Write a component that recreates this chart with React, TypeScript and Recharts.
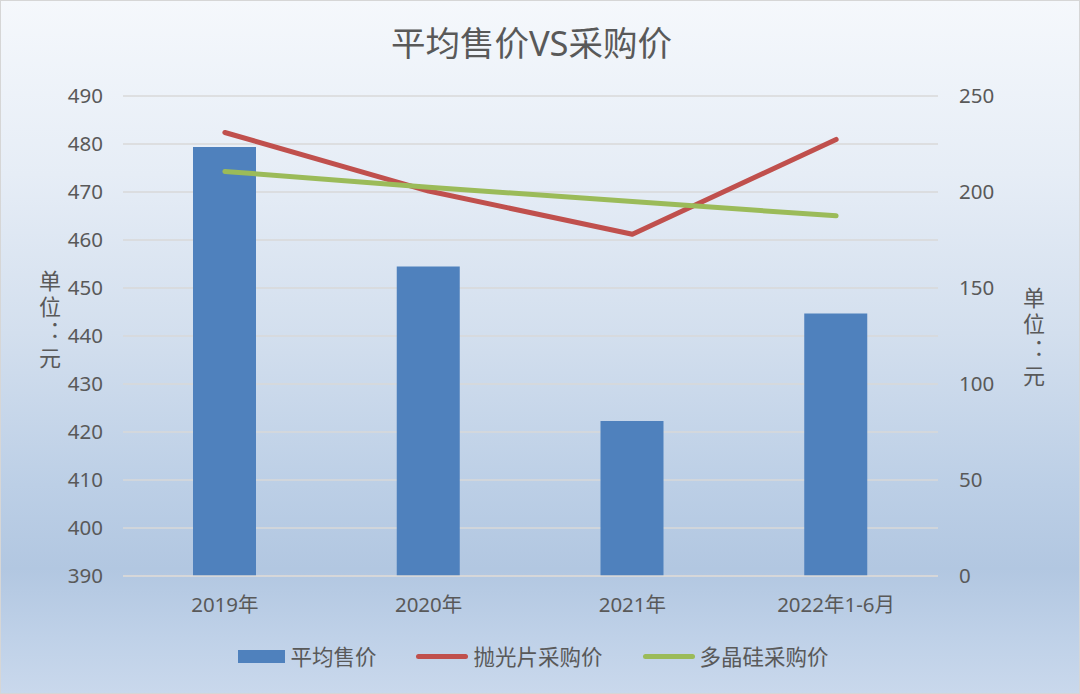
import React from 'react';
import { ComposedChart, Bar, Line, XAxis, YAxis, CartesianGrid, Legend } from 'recharts';

const categories = ['2019年', '2020年', '2021年', '2022年1-6月'];
const avgSalePrice = [479.4, 454.5, 422.3, 444.7];
const waferPurchasePrice = [231.0, 200.5, 178.0, 227.4];
const polyPurchasePrice = [210.7, 202.5, 195.0, 187.6];
const leftTicks = [390, 400, 410, 420, 430, 440, 450, 460, 470, 480, 490];
const rightTicks = [0, 50, 100, 150, 200, 250];
const seriesNames = ['平均售价', '抛光片采购价', '多晶硅采购价'];
const titleText = '平均售价VS采购价';
const unitText = '单位：元';

const data = categories.map((c, i) => ({
  name: c,
  avg: avgSalePrice[i],
  wafer: waferPurchasePrice[i],
  poly: polyPurchasePrice[i],
}));

const FONT = "'Noto Sans', 'Noto Sans CJK SC', sans-serif";
const TEXT = '#595959';

const LegendContent = () => {
  const items = [
    { name: seriesNames[0], type: 'rect', color: '#4f81bd' },
    { name: seriesNames[1], type: 'line', color: '#c0504d' },
    { name: seriesNames[2], type: 'line', color: '#9bbb59' },
  ];
  return (
    <div
      style={{
        height: 30,
        display: 'flex',
        alignItems: 'center',
        justifyContent: 'center',
        paddingRight: 12,
        fontFamily: FONT,
        fontSize: 21.5,
        color: TEXT,
      }}
    >
      {items.map((it, i) => (
        <div key={i} style={{ display: 'flex', alignItems: 'center', marginLeft: i === 0 ? 0 : 40 }}>
          {it.type === 'rect' ? (
            <div style={{ width: 47, height: 13, background: it.color }} />
          ) : (
            <div style={{ width: 52, height: 5, borderRadius: 3, background: it.color }} />
          )}
          <span style={{ marginLeft: 5, lineHeight: '30px' }}>{it.name}</span>
        </div>
      ))}
    </div>
  );
};

export default function App() {
  return (
    <div
      style={{
        position: 'absolute',
        left: 0,
        top: 0,
        width: 1080,
        height: 694,
        boxSizing: 'border-box',
        border: '1.5px solid #d6d6d6',
        background:
          'linear-gradient(180deg, #f5f8fc 0%, #e6edf6 25%, #d3dfee 48%, #bccfe6 70%, #b2c7e1 82%, #bfd1e8 92%, #c9d8ec 100%)',
        fontFamily: FONT,
        overflow: 'hidden',
      }}
    >
      <div
        style={{
          position: 'absolute',
          left: 0,
          width: 1061,
          top: 22,
          textAlign: 'center',
          fontSize: 34.5,
          lineHeight: '40px',
          color: TEXT,
        }}
      >
        {titleText}
      </div>
      <div
        style={{
          position: 'absolute',
          left: 36,
          top: 269,
          writingMode: 'vertical-rl',
          textOrientation: 'upright',
          fontSize: 22,
          letterSpacing: 3.5,
          color: TEXT,
          lineHeight: '23px',
        }}
      >
        {unitText}
      </div>
      <div
        style={{
          position: 'absolute',
          left: 1020,
          top: 286,
          writingMode: 'vertical-rl',
          textOrientation: 'upright',
          fontSize: 22,
          letterSpacing: 4,
          color: TEXT,
          lineHeight: '23px',
        }}
      >
        {unitText}
      </div>
      <div style={{ position: 'absolute', left: -1.5, top: -1.5 }}>
        <ComposedChart
          width={1080}
          height={694}
          data={data}
          margin={{ top: 96, right: 0, left: 0, bottom: 22 }}
          barCategoryGap="34%"
        >
          <CartesianGrid yAxisId="left" vertical={false} stroke="#d9d9d9" strokeWidth={1.5} />
          <XAxis
            dataKey="name"
            height={66}
            tickSize={0}
            tickMargin={21}
            axisLine={{ stroke: '#d9d9d9', strokeWidth: 1.5 }}
            tick={{ fill: TEXT, fontSize: 20.5, fontFamily: FONT }}
          />
          <YAxis
            yAxisId="left"
            orientation="left"
            width={123}
            domain={[390, 490]}
            ticks={leftTicks}
            interval={0}
            allowDataOverflow
            axisLine={false}
            tickLine={false}
            tickSize={0}
            tickMargin={20}
            tick={{ fill: TEXT, fontSize: 20.5, fontFamily: FONT }}
          />
          <YAxis
            yAxisId="right"
            orientation="right"
            width={142}
            domain={[0, 250]}
            ticks={rightTicks}
            interval={0}
            axisLine={false}
            tickLine={false}
            tickSize={0}
            tickMargin={21}
            tick={{ fill: TEXT, fontSize: 20.5, fontFamily: FONT, textAnchor: 'start' }}
          />
          <Legend verticalAlign="bottom" content={<LegendContent />} />
          <Bar
            yAxisId="left"
            dataKey="avg"
            name={seriesNames[0]}
            fill="#4f81bd"
            barSize={63}
            isAnimationActive={false}
          />
          <Line
            yAxisId="right"
            type="linear"
            dataKey="wafer"
            name={seriesNames[1]}
            stroke="#c0504d"
            strokeWidth={5}
            strokeLinecap="round"
            strokeLinejoin="round"
            dot={false}
            activeDot={false}
            isAnimationActive={false}
          />
          <Line
            yAxisId="right"
            type="linear"
            dataKey="poly"
            name={seriesNames[2]}
            stroke="#9bbb59"
            strokeWidth={5}
            strokeLinecap="round"
            strokeLinejoin="round"
            dot={false}
            activeDot={false}
            isAnimationActive={false}
          />
        </ComposedChart>
      </div>
    </div>
  );
}
